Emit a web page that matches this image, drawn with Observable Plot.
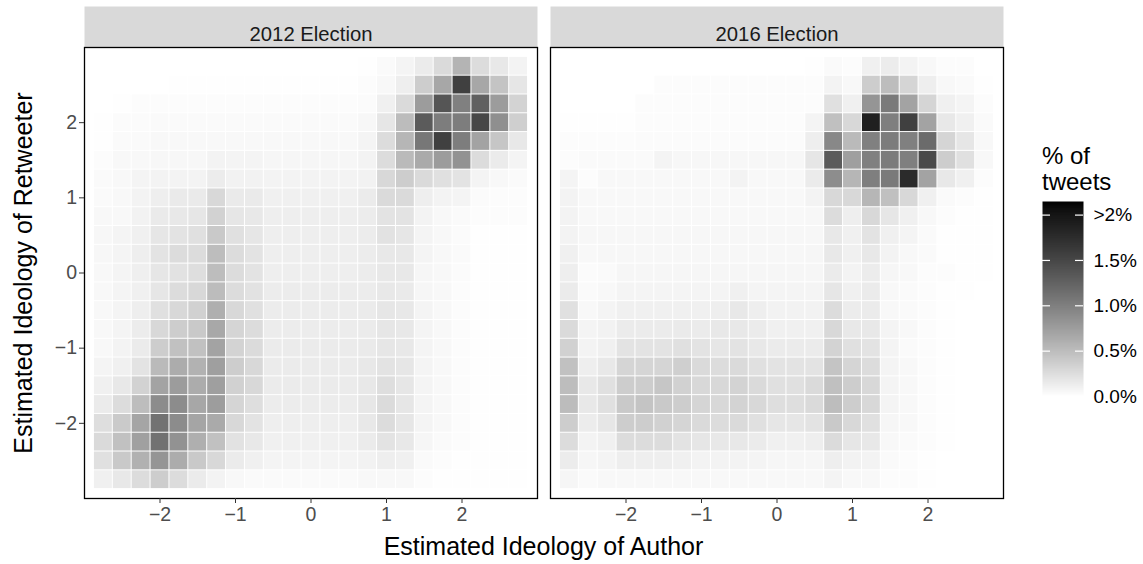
<!DOCTYPE html>
<html><head><meta charset="utf-8">
<script src="https://cdn.jsdelivr.net/npm/d3@7"></script>
<script src="https://cdn.jsdelivr.net/npm/@observablehq/plot@0.6"></script>
<style>
body{margin:0;background:#fff;}
#wrap{position:relative;width:1143px;height:564px;font-family:"Liberation Sans",Arial,Helvetica,sans-serif;overflow:hidden;}
#wrap svg{position:absolute;}
.lbl{position:absolute;white-space:nowrap;color:#000;}
</style></head><body><div id="wrap"></div>
<script>
const elections = ["2012 Election", "2016 Election"];
const xCenters = [-2.75,-2.5,-2.25,-2,-1.75,-1.5,-1.25,-1,-0.75,-0.5,-0.25,0,0.25,0.5,0.75,1,1.25,1.5,1.75,2,2.25,2.5,2.75];
const yCenters = [2.75,2.5,2.25,2,1.75,1.5,1.25,1,0.75,0.5,0.25,0,-0.25,-0.5,-0.75,-1,-1.25,-1.5,-1.75,-2,-2.25,-2.5,-2.75];
const xTicks = [-2,-1,0,1,2];
const yTicks = [-2,-1,0,1,2];
const tickLabels = ["\u22122","\u22121","0","1","2"];
const legendTicks = [0,0.5,1,1.5,2];
const legendLabels = ["0.0%","0.5%","1.0%","1.5%",">2%"];
const colorMax = 2.15;
const binWidth = 0.25;

// % of tweets, rows top (y=2.75) to bottom (y=-2.75), columns x=-2.75..2.75
const values2012 = [
[0,0,0,0,0,0,0,0,0,0,0,0,0,0,0.01,0.04,0.08,0.15,0.28,0.57,0.26,0.17,0.09],
[0,0,0,0,0.01,0.01,0.01,0.01,0.01,0.01,0.01,0.01,0.01,0.01,0.02,0.05,0.13,0.38,0.68,1.57,0.68,0.45,0.19],
[0,0.01,0.02,0.02,0.02,0.02,0.02,0.02,0.02,0.02,0.02,0.02,0.02,0.02,0.03,0.11,0.28,0.77,1.37,1.0,1.27,0.77,0.33],
[0.01,0.03,0.03,0.04,0.04,0.04,0.04,0.04,0.04,0.04,0.04,0.04,0.04,0.04,0.06,0.19,0.51,1.32,1.02,1.02,1.5,0.87,0.36],
[0.01,0.04,0.04,0.05,0.05,0.05,0.05,0.05,0.05,0.05,0.05,0.05,0.05,0.05,0.08,0.26,0.56,1.07,1.57,1.02,0.71,0.43,0.17],
[0.02,0.05,0.05,0.06,0.06,0.06,0.09,0.08,0.08,0.07,0.07,0.07,0.07,0.07,0.09,0.26,0.53,0.65,0.77,0.85,0.26,0.15,0.08],
[0.04,0.05,0.08,0.09,0.09,0.09,0.14,0.1,0.1,0.09,0.09,0.09,0.09,0.09,0.1,0.29,0.38,0.28,0.23,0.21,0.08,0.05,0.04],
[0.04,0.05,0.09,0.13,0.16,0.16,0.29,0.16,0.16,0.11,0.11,0.11,0.11,0.11,0.15,0.28,0.28,0.13,0.09,0.08,0.03,0.02,0.02],
[0.05,0.05,0.1,0.16,0.17,0.19,0.34,0.19,0.17,0.13,0.13,0.13,0.13,0.13,0.14,0.21,0.21,0.09,0.05,0.04,0.02,0.02,0.02],
[0.06,0.08,0.11,0.19,0.21,0.23,0.41,0.23,0.19,0.13,0.13,0.13,0.13,0.13,0.14,0.22,0.19,0.08,0.05,0.03,0.01,0.01,0.01],
[0.06,0.08,0.13,0.21,0.26,0.26,0.5,0.26,0.21,0.13,0.13,0.13,0.13,0.13,0.14,0.17,0.17,0.08,0.05,0.04,0.01,0.01,0.01],
[0.05,0.08,0.12,0.19,0.22,0.25,0.5,0.26,0.21,0.13,0.13,0.13,0.13,0.13,0.14,0.17,0.17,0.07,0.05,0.03,0.01,0.01,0.01],
[0.05,0.08,0.11,0.19,0.26,0.29,0.51,0.26,0.22,0.14,0.14,0.14,0.14,0.14,0.14,0.17,0.16,0.07,0.05,0.02,0.01,0.01,0.01],
[0.05,0.08,0.13,0.23,0.29,0.35,0.61,0.29,0.23,0.14,0.14,0.14,0.14,0.14,0.15,0.19,0.17,0.08,0.05,0.02,0.01,0.01,0.01],
[0.05,0.08,0.14,0.29,0.38,0.41,0.67,0.32,0.26,0.14,0.14,0.14,0.14,0.14,0.15,0.19,0.17,0.08,0.05,0.02,0.01,0.01,0.01],
[0.05,0.09,0.15,0.38,0.47,0.47,0.71,0.33,0.27,0.15,0.15,0.15,0.15,0.15,0.16,0.19,0.17,0.08,0.05,0.02,0.01,0.01,0.01],
[0.08,0.11,0.21,0.53,0.64,0.59,0.74,0.38,0.29,0.15,0.15,0.15,0.15,0.15,0.17,0.21,0.19,0.08,0.05,0.02,0.01,0.01,0.01],
[0.11,0.17,0.34,0.71,0.77,0.64,0.74,0.35,0.29,0.15,0.15,0.15,0.15,0.15,0.17,0.25,0.19,0.08,0.05,0.02,0.01,0.01,0.01],
[0.15,0.26,0.5,0.9,0.9,0.68,0.76,0.32,0.25,0.14,0.14,0.14,0.14,0.14,0.18,0.27,0.19,0.08,0.05,0.02,0.01,0.01,0.01],
[0.25,0.4,0.69,1.12,0.9,0.69,0.65,0.29,0.21,0.13,0.13,0.13,0.13,0.13,0.17,0.26,0.19,0.08,0.05,0.02,0.01,0.01,0.01],
[0.28,0.47,0.73,1.13,0.85,0.61,0.47,0.22,0.17,0.11,0.11,0.11,0.11,0.11,0.15,0.21,0.17,0.07,0.04,0.02,0.01,0.01,0.01],
[0.23,0.41,0.6,0.82,0.64,0.41,0.29,0.15,0.11,0.08,0.08,0.08,0.08,0.08,0.1,0.13,0.11,0.04,0.02,0.01,0.01,0.01,0.01],
[0.11,0.17,0.26,0.38,0.26,0.15,0.09,0.05,0.04,0.04,0.04,0.04,0.04,0.04,0.05,0.05,0.05,0.02,0.01,0.01,0.01,0.01,0.01]
];
const values2016 = [
[0,0,0,0,0,0,0,0,0,0,0,0,0,0.01,0.04,0.02,0.11,0.14,0.09,0.05,0.02,0.02,0],
[0,0,0,0,0,0.02,0.02,0.02,0.02,0.02,0.02,0.02,0.02,0.02,0.09,0.05,0.38,0.5,0.32,0.13,0.05,0.04,0.01],
[0,0,0,0,0.02,0.02,0.02,0.02,0.02,0.02,0.02,0.02,0.02,0.02,0.23,0.11,0.82,1.05,0.71,0.32,0.11,0.08,0.02],
[0.01,0.01,0.01,0.01,0.02,0.02,0.02,0.02,0.02,0.02,0.02,0.02,0.02,0.08,0.48,0.29,1.89,1.01,1.57,0.71,0.17,0.11,0.04],
[0.02,0.02,0.02,0.02,0.03,0.03,0.03,0.03,0.03,0.03,0.03,0.03,0.03,0.13,0.93,0.53,1.0,1.03,1.0,1.18,0.32,0.19,0.05],
[0.02,0.04,0.04,0.04,0.04,0.08,0.06,0.06,0.06,0.06,0.06,0.06,0.06,0.19,1.32,0.74,1.0,1.03,1.01,1.47,0.38,0.23,0.05],
[0.08,0.02,0.05,0.05,0.05,0.05,0.05,0.05,0.05,0.09,0.05,0.05,0.05,0.15,0.89,0.56,1.01,1.05,1.77,0.71,0.17,0.11,0.02],
[0.09,0.05,0.05,0.05,0.05,0.05,0.05,0.05,0.05,0.05,0.05,0.05,0.05,0.09,0.29,0.29,0.56,0.48,0.29,0.11,0.04,0.02,0.01],
[0.09,0.05,0.05,0.05,0.05,0.05,0.05,0.05,0.05,0.05,0.05,0.05,0.05,0.06,0.26,0.13,0.29,0.19,0.11,0.05,0.02,0.01,0.01],
[0.09,0.06,0.06,0.06,0.06,0.06,0.06,0.06,0.06,0.06,0.06,0.06,0.06,0.06,0.17,0.11,0.21,0.11,0.08,0.04,0.01,0.01,0.01],
[0.11,0.05,0.06,0.06,0.06,0.06,0.06,0.06,0.06,0.06,0.06,0.06,0.06,0.07,0.17,0.11,0.17,0.09,0.05,0.04,0.01,0.01,0.01],
[0.13,0.03,0.04,0.07,0.07,0.07,0.07,0.07,0.07,0.07,0.07,0.07,0.07,0.07,0.15,0.09,0.14,0.07,0.05,0.02,0.02,0.01,0.01],
[0.15,0.04,0.05,0.08,0.08,0.08,0.08,0.08,0.08,0.11,0.08,0.08,0.08,0.08,0.19,0.11,0.15,0.05,0.04,0.02,0.01,0.01,0],
[0.23,0.05,0.08,0.11,0.11,0.11,0.11,0.11,0.13,0.17,0.13,0.1,0.1,0.1,0.26,0.14,0.15,0.05,0.04,0.02,0.01,0,0],
[0.28,0.08,0.1,0.15,0.15,0.15,0.16,0.15,0.17,0.17,0.15,0.11,0.11,0.11,0.29,0.17,0.17,0.08,0.05,0.02,0.01,0,0],
[0.35,0.09,0.11,0.21,0.21,0.21,0.23,0.21,0.19,0.21,0.17,0.15,0.15,0.15,0.33,0.23,0.21,0.08,0.04,0.02,0.01,0,0],
[0.47,0.13,0.17,0.32,0.32,0.32,0.36,0.28,0.26,0.28,0.23,0.21,0.21,0.21,0.45,0.32,0.26,0.08,0.05,0.02,0.01,0,0],
[0.5,0.17,0.23,0.38,0.38,0.43,0.35,0.29,0.29,0.33,0.28,0.23,0.23,0.28,0.48,0.38,0.29,0.08,0.05,0.02,0.01,0,0],
[0.51,0.17,0.23,0.41,0.45,0.41,0.38,0.32,0.29,0.33,0.29,0.25,0.25,0.28,0.5,0.38,0.29,0.08,0.05,0.02,0.01,0,0],
[0.38,0.14,0.19,0.38,0.38,0.35,0.32,0.28,0.26,0.28,0.23,0.19,0.19,0.21,0.41,0.29,0.23,0.07,0.05,0.02,0.01,0,0],
[0.26,0.09,0.11,0.26,0.26,0.26,0.21,0.19,0.17,0.17,0.15,0.11,0.11,0.13,0.27,0.19,0.17,0.05,0.04,0.02,0.01,0,0],
[0.14,0.07,0.08,0.13,0.13,0.13,0.11,0.09,0.09,0.09,0.08,0.07,0.07,0.07,0.13,0.1,0.09,0.04,0.02,0.01,0,0,0],
[0.07,0.04,0.05,0.05,0.05,0.05,0.05,0.05,0.05,0.05,0.05,0.05,0.05,0.05,0.08,0.05,0.05,0.02,0.02,0.01,0,0,0]
];

const tiles = [];
[values2012, values2016].forEach((grid, k) =>
  grid.forEach((row, i) => row.forEach((v, j) =>
    tiles.push({election: elections[k], x: xCenters[j], y: yCenters[i], value: v}))));

const FONT = '"Liberation Sans", Arial, Helvetica, sans-serif';
const colorOpts = {type: "linear", domain: [0, colorMax], range: ["white", "black"], interpolate: d3.interpolateLab, clamp: true};
const fmtTick = d => tickLabels[xTicks.indexOf(d)];

const main = Plot.plot({
  width: 1010, height: 564,
  marginLeft: 83, marginRight: 7, marginTop: 47, marginBottom: 66,
  style: {fontFamily: FONT, fontSize: "19.5px", background: "transparent", overflow: "visible"},
  fx: {domain: elections, paddingInner: 0.028, paddingOuter: 0, axis: null, label: null},
  x: {domain: [-3, 3]},
  y: {domain: [-3, 3]},
  color: colorOpts,
  marks: [
    Plot.frame({fill: "#D9D9D9", insetTop: -41, insetBottom: 451}),
    Plot.text(elections.map(e => ({election: e})), {fx: "election", text: "election", frameAnchor: "top", dy: -20.5, fill: "#1A1A1A", fontSize: 20.3}),
    Plot.rect(tiles, {fx: "election", x1: d => d.x - binWidth / 2, x2: d => d.x + binWidth / 2,
      y1: d => d.y - binWidth / 2, y2: d => d.y + binWidth / 2, fill: "value", inset: 0.5}),
    Plot.frame({stroke: "black", strokeWidth: 1.3}),
    Plot.axisX({ticks: xTicks, tickFormat: fmtTick, tickSize: 5, tickPadding: 4, stroke: "#333", fill: "#4D4D4D", label: null}),
    Plot.axisY({ticks: yTicks, tickFormat: fmtTick, tickSize: 5, tickPadding: 2.5, stroke: "#333", fill: "#4D4D4D", label: null})
  ]
});
main.style.left = "0px"; main.style.top = "0px";

const legend = Plot.plot({
  width: 101, height: 229,
  marginLeft: 0, marginRight: 60, marginTop: 6, marginBottom: 28,
  style: {fontFamily: FONT, fontSize: "19px", background: "transparent", overflow: "visible"},
  x: {domain: [0, 1], axis: null},
  y: {domain: [0, colorMax], axis: null},
  color: colorOpts,
  marks: [
    Plot.raster({x1: 0, x2: 1, y1: 0, y2: colorMax, width: 1, height: 300, fill: (x, y) => y, imageRendering: "auto"}),
    Plot.tickY(legendTicks, {y: d => d, stroke: "white", strokeWidth: 1.2, insetRight: 33}),
    Plot.tickY(legendTicks, {y: d => d, stroke: "white", strokeWidth: 1.2, insetLeft: 33}),
    Plot.axisY({anchor: "right", ticks: legendTicks, tickSize: 0, tickPadding: 10,
      tickFormat: d => legendLabels[legendTicks.indexOf(d)], fill: "black", label: null})
  ]
});
legend.style.left = "1042px"; legend.style.top = "195px";

const wrap = document.getElementById("wrap");
wrap.appendChild(main);
wrap.appendChild(legend);

function addLabel(html, css) {
  const d = document.createElement("div");
  d.className = "lbl";
  d.innerHTML = html;
  Object.assign(d.style, css);
  wrap.appendChild(d);
}
addLabel("Estimated Ideology of Author", {left: "0px", width: "1087px", textAlign: "center", top: "534px", fontSize: "25px", lineHeight: "25px"});
addLabel("Estimated Ideology of Retweeter", {left: "23px", top: "272.5px", fontSize: "25px", lineHeight: "25px", transform: "translate(-50%,-50%) rotate(-90deg)"});
addLabel("% of<br>tweets", {left: "1042px", top: "143px", fontSize: "24px", lineHeight: "26px"});
</script>
</body></html>
